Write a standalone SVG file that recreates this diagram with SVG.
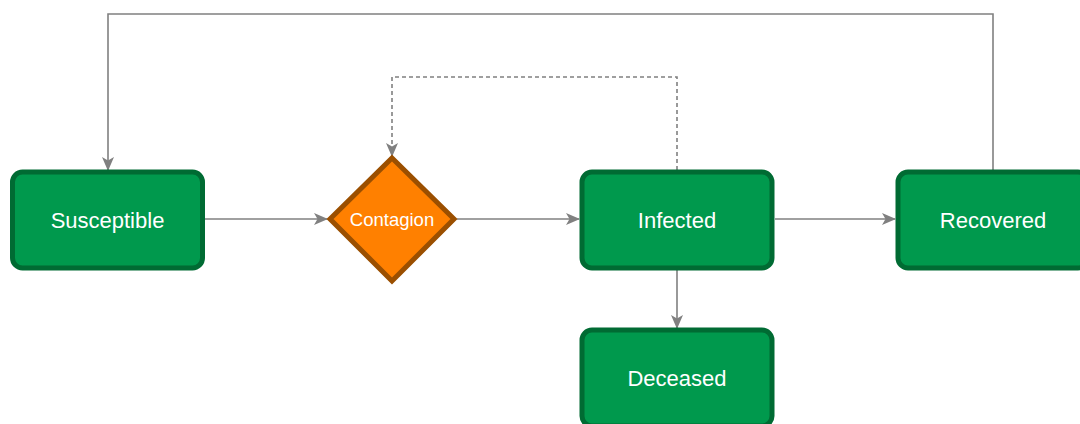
<svg xmlns="http://www.w3.org/2000/svg" width="1080" height="424" viewBox="0 0 1080 424">
<style>
.box{fill:#00994d;stroke:#006b33;stroke-width:5}
.dia{fill:#ff8000;stroke:#9b4f00;stroke-width:5}
.lbl{font-family:"Liberation Sans",Arial,sans-serif;fill:#ffffff;text-anchor:middle;dominant-baseline:central}
.edge{fill:none;stroke:#808080;stroke-width:1.6}
.dash{stroke-dasharray:4 3}
</style>
<defs>
<marker id="arr" viewBox="0 0 14 12" refX="13" refY="6" markerWidth="14" markerHeight="12" markerUnits="userSpaceOnUse" orient="auto">
<path d="M0,0 L14,6 L0,12 L3.5,6 Z" fill="#808080"/>
</marker>
</defs>
<g id="connectors">
<path class="edge" d="M205,219 H327" marker-end="url(#arr)"/>
<path class="edge" d="M457,219 H579" marker-end="url(#arr)"/>
<path class="edge" d="M775,219 H895" marker-end="url(#arr)"/>
<path class="edge" d="M677,270 V328" marker-end="url(#arr)"/>
<path class="edge" d="M993,170 V14 H108 V170" marker-end="url(#arr)"/>
<path class="edge dash" d="M677,170 V77 H392 V156" marker-end="url(#arr)"/>
</g>
<g id="susceptible">
<rect class="box" x="12.5" y="172" width="190" height="96" rx="10"/>
<text class="lbl" x="107.5" y="220" font-size="22">Susceptible</text>
</g>
<g id="contagion">
<path class="dia" d="M392,158 L454,219 L392,281 L330,219 Z"/>
<text class="lbl" x="392" y="219" font-size="18.5">Contagion</text>
</g>
<g id="infected">
<rect class="box" x="582" y="172" width="190" height="96" rx="10"/>
<text class="lbl" x="677" y="220" font-size="22">Infected</text>
</g>
<g id="recovered">
<rect class="box" x="898" y="172" width="190" height="96" rx="10"/>
<text class="lbl" x="993" y="220" font-size="22">Recovered</text>
</g>
<g id="deceased">
<rect class="box" x="582" y="330" width="190" height="96" rx="10"/>
<text class="lbl" x="677" y="378" font-size="22">Deceased</text>
</g>
</svg>
